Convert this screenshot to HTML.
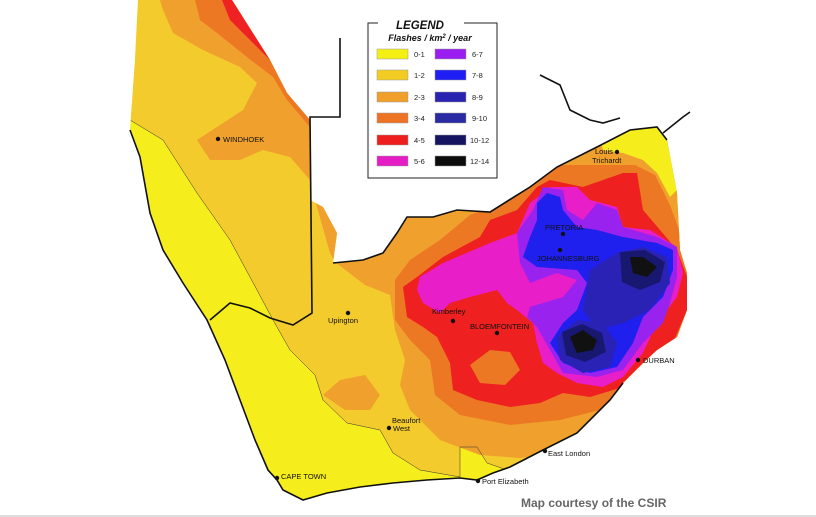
<!DOCTYPE html>
<html><head><meta charset="utf-8"><style>
html,body{margin:0;padding:0;background:#fff;}
svg{display:block;font-family:"Liberation Sans",sans-serif;}
.c{font-size:7.5px;fill:#111;}
</style></head><body>
<svg width="816" height="517" viewBox="0 0 816 517" xmlns="http://www.w3.org/2000/svg">
<defs>
<clipPath id="land"><path d="M138,0 L232,0 L270,60 L287,93 L310,120 L310,200 L323,207 L337,233 L333,263 L363,260 L383,253 L397,233 L407,217 L433,217 L457,210 L490,212 L530,187 L557,167 L597,147 L630,130 L657,127 L667,140 L677,193 L680,250 L687,273 L687,310 L677,337 L657,350 L643,363 L623,383 L610,400 L577,433 L543,450 L510,467 L493,473 L477,480 L460,478 L427,480 L393,483 L360,487 L327,493 L303,500 L283,490 L277,480 L268,470 L255,440 L240,400 L225,360 L207,320 L183,283 L163,250 L150,213 L140,157 L130,130 L135,60 Z"/></clipPath>
</defs>
<g clip-path="url(#land)">
<rect x="0" y="0" width="816" height="517" fill="#f5ee1c"/>
<path fill="#f3cb2c" d="M138,0 L235,0 L700,0 L700,520 L507,470 L487,463 L477,447 L460,447 L460,477 L420,470 L393,453 L380,430 L347,423 L323,400 L315,375 L290,350 L273,320 L257,290 L230,240 L197,193 L163,140 L130,120 Z"/>
<path fill="#f0a02c" d="M160,0 L163,10 L173,33 L203,50 L240,67 L257,83 L243,110 L217,127 L197,140 L210,160 L240,160 L263,150 L290,157 L310,180 L317,207 L330,253 L335,262 L365,285 L390,295 L395,330 L405,360 L400,385 L410,410 L440,440 L480,455 L520,458 L700,440 L700,0 Z"/>
<path fill="#f0a02c" d="M323,395 L340,380 L365,375 L380,395 L370,410 L345,410 Z"/>
<path fill="#f5ee1c" d="M600,140 L620,130 L657,127 L667,140 L677,190 L670,197 L657,173 L643,160 L623,153 L603,150 Z"/>
<path fill="#ec7824" d="M195,0 L200,20 L217,33 L247,57 L273,77 L287,100 L310,127 L320,110 L300,60 L280,0 Z"/>
<path fill="#ee2222" d="M222,0 L230,20 L255,45 L272,62 L285,60 L265,0 Z"/>
<path fill="#ec7824" d="M395,280 L395,320 L410,340 L430,360 L435,395 L460,415 L510,425 L560,420 L600,410 L640,390 L670,360 L690,320 L690,260 L670,205 L655,175 L635,165 L590,165 L560,165 L525,180 L495,205 L470,215 L440,240 L410,260 Z"/>
<path fill="#ee2020" d="M403,287 L407,317 L423,327 L437,337 L450,363 L453,390 L477,400 L510,407 L540,403 L563,393 L590,397 L623,387 L653,370 L673,343 L687,310 L687,277 L677,250 L643,210 L637,173 L623,173 L583,187 L550,180 L537,187 L517,210 L490,220 L480,237 L443,257 L417,277 Z"/>
<path fill="#ec7824" d="M470,365 L490,350 L510,352 L520,370 L505,385 L480,383 Z"/>
<path fill="#e81ec8" d="M417,290 L423,303 L440,313 L450,303 L470,297 L497,290 L507,303 L517,310 L533,323 L537,343 L543,363 L557,373 L577,383 L603,387 L623,377 L643,353 L657,323 L677,297 L683,273 L677,247 L650,230 L623,227 L617,207 L590,200 L577,187 L550,187 L543,193 L530,203 L517,233 L490,243 L443,263 L420,277 Z"/>
<path fill="#9a22ee" d="M543,187 L563,190 L567,210 L583,220 L597,203 L617,210 L623,227 L657,237 L677,247 L677,277 L670,303 L663,323 L643,343 L623,370 L597,377 L563,373 L550,350 L537,327 L527,317 L530,307 L563,297 L577,280 L557,273 L530,283 L520,263 L517,233 L533,210 Z"/>
<path fill="#2020ee" d="M547,193 L560,197 L563,210 L577,227 L597,230 L623,237 L657,243 L673,250 L673,270 L663,297 L643,317 L633,343 L617,367 L590,373 L563,363 L550,343 L563,323 L577,310 L587,283 L577,270 L537,267 L523,257 L530,237 L537,220 L537,203 Z"/>
<path fill="#2a22b4" d="M590,270 L617,253 L643,247 L667,257 L670,283 L650,310 L623,323 L597,330 L583,310 Z"/>
<path fill="#2a22b4" d="M557,337 L577,320 L603,323 L617,343 L610,367 L583,373 L560,360 Z"/>
<path fill="#181870" d="M620,252 L645,250 L665,262 L660,282 L640,290 L622,282 Z"/>
<path fill="#181870" d="M562,332 L582,324 L602,333 L606,352 L585,362 L566,355 Z"/>
<path fill="#111" d="M630,257 L643,257 L657,267 L647,277 L633,273 Z"/>
<path fill="#111" d="M570,337 L583,330 L597,340 L593,350 L577,353 Z"/>
<g fill="none" stroke="#333" stroke-width="0.5">
<path d="M130,120 L163,140 L197,193 L230,240 L257,290 L273,320 L290,350 L315,375 L323,400 L347,423 L380,430 L393,453 L420,470 L460,477 L460,447 L477,447 L487,463 L507,470"/>
</g>
</g>
<g fill="none" stroke="#111" stroke-width="1.6">
<path d="M130,130 L140,157 L150,213 L163,250 L183,283 L207,320 L225,360 L240,400 L255,440 L268,470 L277,480 L283,490 L303,500 L327,493 L360,487 L393,483 L427,480 L460,478 L477,480 L493,473 L510,467 L543,450 L577,433 L610,400 L623,383"/>
<path d="M340,38 L340,117 L310,117 L312,313 L293,325 L270,318 L250,308 L230,303 L210,320"/>
<path d="M333,263 L363,260 L383,253 L397,233 L407,217 L433,217 L457,210 L490,212 L530,187 L557,167 L597,147 L630,130 L657,127 L667,140"/>
<path d="M540,75 L560,85 L570,110 L590,120 L603,123 L620,118"/>
<path d="M663,133 L683,117 L690,112"/>
</g>
<g>
<rect x="368" y="23" width="129" height="155" fill="#fff" stroke="#222" stroke-width="1"/>
<rect x="378" y="19" width="86" height="8" fill="#fff"/>
<text x="420" y="29" text-anchor="middle" font-size="11.5" font-weight="bold" font-style="italic" fill="#111">LEGEND</text>
<text x="430" y="41" text-anchor="middle" font-size="9" font-weight="bold" font-style="italic" fill="#111">Flashes / km<tspan font-size="6" dy="-3">2</tspan><tspan dy="3"> / year</tspan></text>
<g stroke="#999" stroke-width="0.5">
<rect x="377" y="49" width="31" height="10" fill="#f5f014"/>
<rect x="377" y="70" width="31" height="10" fill="#f2cc22"/>
<rect x="377" y="92" width="31" height="10" fill="#f0a02a"/>
<rect x="377" y="113" width="31" height="10" fill="#ec7424"/>
<rect x="377" y="135" width="31" height="10" fill="#ee1e1e"/>
<rect x="377" y="156" width="31" height="10" fill="#e41ec4"/>
<rect x="435" y="49" width="31" height="10" fill="#9a1ef0"/>
<rect x="435" y="70" width="31" height="10" fill="#1e1ef5"/>
<rect x="435" y="92" width="31" height="10" fill="#2a22b0"/>
<rect x="435" y="113" width="31" height="10" fill="#2a2aa2"/>
<rect x="435" y="135" width="31" height="10" fill="#141460"/>
<rect x="435" y="156" width="31" height="10" fill="#0c0c0c"/>
</g>
<g font-size="7.5" fill="#222">
<text x="414" y="57">0-1</text><text x="414" y="78">1-2</text><text x="414" y="100">2-3</text>
<text x="414" y="121">3-4</text><text x="414" y="143">4-5</text><text x="414" y="164">5-6</text>
<text x="472" y="57">6-7</text><text x="472" y="78">7-8</text><text x="472" y="100">8-9</text>
<text x="472" y="121">9-10</text><text x="470" y="143">10-12</text><text x="470" y="164">12-14</text>
</g>
</g>
<g fill="#111">
<circle cx="218" cy="139" r="2.2"/><circle cx="348" cy="313" r="2.2"/><circle cx="453" cy="321" r="2.2"/>
<circle cx="497" cy="333" r="2.2"/><circle cx="563" cy="234" r="2.2"/><circle cx="560" cy="250" r="2.2"/>
<circle cx="617" cy="152" r="2.2"/><circle cx="638" cy="360" r="2.2"/><circle cx="389" cy="428" r="2.2"/>
<circle cx="545" cy="451" r="2.2"/><circle cx="478" cy="481" r="2.2"/><circle cx="277" cy="478" r="2.2"/>
</g>
<g class="c">
<text x="223" y="142">WINDHOEK</text>
<text x="328" y="323">Upington</text>
<text x="432" y="314">Kimberley</text>
<text x="470" y="329">BLOEMFONTEIN</text>
<text x="545" y="230">PRETORIA</text>
<text x="537" y="261">JOHANNESBURG</text>
<text x="595" y="154">Louis</text><text x="592" y="163">Trichardt</text>
<text x="643" y="363">DURBAN</text>
<text x="392" y="423">Beaufort</text><text x="393" y="431">West</text>
<text x="548" y="456">East London</text>
<text x="482" y="484">Port Elizabeth</text>
<text x="281" y="479">CAPE TOWN</text>
</g>
<text x="521" y="507" font-size="12" font-weight="bold" fill="#666">Map courtesy of the CSIR</text>
<rect x="0" y="515" width="816" height="2" fill="#ddd"/>
</svg>
</body></html>
